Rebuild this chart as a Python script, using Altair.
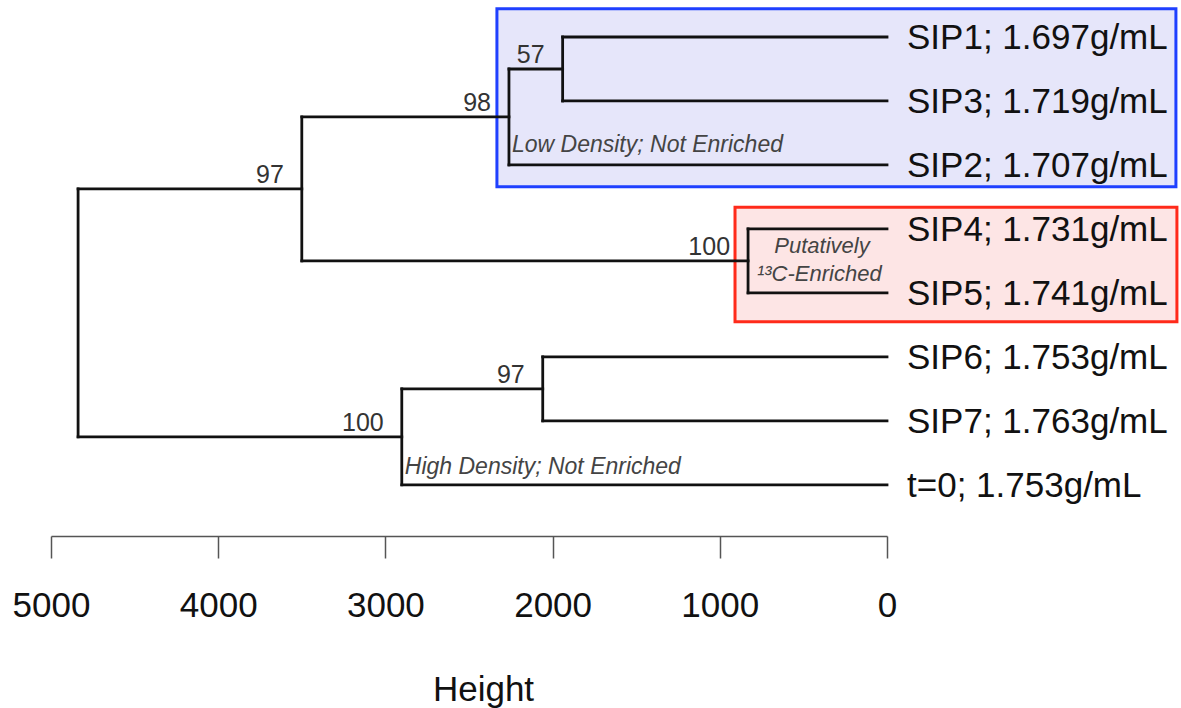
import altair as alt
import pandas as pd

# ---- data ----
leaf_keys = ["SIP1", "SIP3", "SIP2", "SIP4", "SIP5", "SIP6", "SIP7", "t0"]
leaf_labels = ["SIP1; 1.697g/mL", "SIP3; 1.719g/mL", "SIP2; 1.707g/mL",
               "SIP4; 1.731g/mL", "SIP5; 1.741g/mL", "SIP6; 1.753g/mL",
               "SIP7; 1.763g/mL", "t=0; 1.753g/mL"]
node_names = ["n1", "n2", "n3", "n4", "n5", "n6", "n7"]
node_children = [("SIP1", "SIP3"), ("n1", "SIP2"), ("SIP4", "SIP5"),
                 ("n2", "n3"), ("SIP6", "SIP7"), ("n5", "t0"), ("n4", "n6")]
node_heights = [1940, 2261, 831, 3500, 2059, 2902, 4838]
node_support = ["57", "98", "100", "97", "97", "100", ""]

tick_values = [0, 1000, 2000, 3000, 4000, 5000]

# highlight boxes (data extents: height, leaf position)
box_x = [2333, 909]
box_x2 = [-1728, -1734]
box_y = [0.56, 3.66]
box_y2 = [3.34, 5.45]
box_fill = ["#e6e6fa", "#fde5e5"]
box_stroke = ["#1f40ff", "#ff2a1a"]

note_text = ["Low Density; Not Enriched", "High Density; Not Enriched"]
note_x = [2261, 2902]
note_y = [2.69, 7.72]
center_note_text = ["Putatively", "\u00b9\u00b3C-Enriched"]
center_note_x = [389, 405]
center_note_y = [4.27, 4.71]

# ---- build tree geometry ----
pos = {}
hgt = {}
for i, k in enumerate(leaf_keys):
    pos[k] = i + 1
    hgt[k] = 0
segs = []
supp = []
for name, (a, b), h, s in zip(node_names, node_children, node_heights, node_support):
    pos[name] = (pos[a] + pos[b]) / 2
    hgt[name] = h
    segs.append({"x": h, "x2": h, "y": pos[a], "y2": pos[b]})
    for c in (a, b):
        segs.append({"x": hgt[c], "x2": h, "y": pos[c], "y2": pos[c]})
    if s:
        supp.append({"x": h, "y": pos[name], "t": s})

seg_df = pd.DataFrame(segs)
supp_df = pd.DataFrame(supp)
leaf_df = pd.DataFrame({"x": [0] * len(leaf_keys), "y": [pos[k] for k in leaf_keys], "t": leaf_labels})
box_df = pd.DataFrame({"x": box_x, "x2": box_x2, "y": box_y, "y2": box_y2,
                       "fill": box_fill, "stroke": box_stroke})
note_df = pd.DataFrame({"x": note_x, "y": note_y, "t": note_text})
cnote_df = pd.DataFrame({"x": center_note_x, "y": center_note_y, "t": center_note_text})

xs = alt.Scale(domain=[0, 5000], reverse=True, nice=False, zero=False)
ys = alt.Scale(domain=[0.5, 8.8], reverse=True, nice=False, zero=False)

boxes = alt.Chart(box_df).mark_rect(strokeWidth=3, clip=False).encode(
    x=alt.X("x:Q", scale=xs,
            axis=alt.Axis(values=tick_values, title="Height", format="d",
                          labelFontSize=35, labelFont="Liberation Sans", labelColor="#111",
                          labelPadding=30, tickSize=22, tickColor="#555", tickWidth=1.5,
                          domainColor="#555", domainWidth=1.5, grid=False,
                          titleFontSize=35, titleFont="Liberation Sans", titleFontWeight="normal",
                          titleColor="#111", titleBaseline="alphabetic", titleY=164,
                          titleX=432, titleAlign="center",
                          labelFlush=False, labelOverlap=False)),
    x2="x2:Q",
    y=alt.Y("y:Q", scale=ys, axis=None),
    y2="y2:Q",
    fill=alt.Fill("fill:N", scale=None),
    stroke=alt.Stroke("stroke:N", scale=None),
)

lines = alt.Chart(seg_df).mark_rule(color="#111", strokeWidth=2.8, strokeCap="square").encode(
    x=alt.X("x:Q", scale=xs), x2="x2:Q", y=alt.Y("y:Q", scale=ys), y2="y2:Q")

support = alt.Chart(supp_df).mark_text(align="right", baseline="alphabetic", dx=-18, dy=-6,
                                       fontSize=25, font="Liberation Sans", color="#333").encode(
    x=alt.X("x:Q", scale=xs), y=alt.Y("y:Q", scale=ys), text="t:N")

leaves = alt.Chart(leaf_df).mark_text(align="left", baseline="middle", dx=20, dy=1,
                                      fontSize=35, font="Liberation Sans", color="#111",
                                      clip=False).encode(
    x=alt.X("x:Q", scale=xs), y=alt.Y("y:Q", scale=ys), text="t:N")

notes = alt.Chart(note_df).mark_text(align="left", baseline="middle", dx=3,
                                     fontSize=23, font="Liberation Sans", fontStyle="italic",
                                     color="#444").encode(
    x=alt.X("x:Q", scale=xs), y=alt.Y("y:Q", scale=ys), text="t:N")

cnotes = alt.Chart(cnote_df).mark_text(align="center", baseline="middle",
                                       fontSize=22, font="Liberation Sans", fontStyle="italic",
                                       color="#444").encode(
    x=alt.X("x:Q", scale=xs), y=alt.Y("y:Q", scale=ys), text="t:N")

chart = alt.layer(boxes, lines, support, leaves, notes, cnotes).properties(
    width=836, height=531,
    autosize=alt.AutoSizeParams(type="none"),
    padding={"left": 51, "top": 5, "right": 294, "bottom": 172},
    background="white",
).configure_view(stroke=None)

chart.save("out.html", embed_options={"renderer": "svg", "actions": False})
